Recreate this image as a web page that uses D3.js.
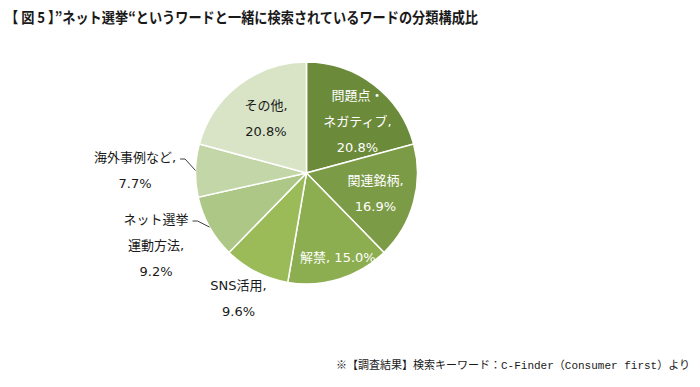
<!DOCTYPE html>
<meta charset="utf-8">
<head>
  <script src="https://cdn.jsdelivr.net/npm/d3@7"></script>
  <style>
    body { margin: 0; background: #fff; }
    text { font-family: "DejaVu Sans", "Noto Sans CJK JP", sans-serif; }
  </style>
</head>
<body>
<script type="text/javascript">

// datos
var categories = ["問題点・ネガティブ", "関連銘柄", "解禁", "SNS活用", "ネット選挙運動方法", "海外事例など", "その他"];
var nameLines = [["問題点・", "ネガティブ,"], ["関連銘柄,"], ["解禁,"], ["SNS活用,"], ["ネット選挙", "運動方法,"], ["海外事例など,"], ["その他,"]];
var values = [20.8, 16.9, 15.0, 9.6, 9.2, 7.7, 20.8];
var colors = ["#6b8a3a", "#7c9b47", "#8cae50", "#9bbb59", "#adc886", "#c3d6a7", "#d8e4c5"];

var w = 700, h = 387;
var cx = 306.5, cy = 173, radius = 111;

// layout of each label: k = fraction of radius, dx/dy offsets, inline = value on same line
var layout = [
  {k: 0.68, dx: 5, dy: 8, fill: "#fff"},
  {k: 0.70, dx: -6, dy: 0, fill: "#fff"},
  {k: 0.80, dx: 5, dy: 0, fill: "#fff", inline: true},
  {k: 1.25, dx: -5, dy: 2, fill: "#1a1a1a"},
  {k: 1.45, dx: 0, dy: 0, fill: "#1a1a1a", leader: true},
  {k: 1.55, dx: 0, dy: 0, fill: "#1a1a1a", leader: true},
  {k: 0.66, dx: 4, dy: 4, fill: "#1a1a1a"}
];
// fixed spots for the outside labels with leaders
var outside = {4: [156, 245], 5: [135, 170]};

var svg = d3.select("body").append("svg")
    .attr("width", w)
    .attr("height", h);

svg.append("text")
  .attr("x", 5).attr("y", 23)
  .attr("font-size", 15).attr("font-weight", "bold")
  .attr("fill", "#1a1a1a")
  .style("font-family", "'Noto Sans CJK JP', sans-serif")
  .attr("textLength", 473).attr("lengthAdjust", "spacingAndGlyphs")
  .text("【 図 5 】”ネット選挙“というワードと一緒に検索されているワードの分類構成比");

var g = svg.append("g")
    .attr("transform", "translate(" + cx + "," + cy + ")");

var pie = d3.pie().sort(null).value(function(d) { return d; });
var arcs = pie(values);

var path = d3.arc().innerRadius(0).outerRadius(radius);

g.selectAll("path")
  .data(arcs)
  .enter()
  .append("path")
  .attr("d", path)
  .attr("fill", function(d, i) { return colors[i]; })
  .attr("stroke", "#fff")
  .attr("stroke-width", 1.5);

var fmt = function(v) { return v.toFixed(1) + "%"; };
var lineH = 26;

arcs.forEach(function(d, i) {
  var L = layout[i];
  var a = (d.startAngle + d.endAngle) / 2;
  var x, y;
  if (outside[i]) {
    x = outside[i][0] - cx; y = outside[i][1] - cy;
  } else {
    x = Math.sin(a) * radius * L.k + L.dx;
    y = -Math.cos(a) * radius * L.k + L.dy;
  }
  var lines = nameLines[i].slice();
  if (L.inline) lines[lines.length - 1] += " " + fmt(values[i]);
  else lines.push(fmt(values[i]));

  var t = g.append("text")
    .attr("text-anchor", "middle")
    .attr("font-size", 13)
    .attr("fill", L.fill);
  var y0 = y - (lines.length - 1) * lineH / 2;
  lines.forEach(function(s, j) {
    t.append("tspan")
      .attr("x", x)
      .attr("y", y0 + j * lineH)
      .attr("dy", "0.35em")
      .text(s);
  });

  if (L.leader) {
    var bb = t.node().getBBox();
    var sx = x + bb.width / 2 + 4;
    var sy = y0 + 2;
    var ex = Math.sin(a) * radius, ey = -Math.cos(a) * radius;
    g.append("path")
      .attr("d", "M" + sx + "," + sy + "H" + (sx + 5) + "L" + ex + "," + ey)
      .attr("fill", "none")
      .attr("stroke", "#404040")
      .attr("stroke-width", 1);
  }
});

svg.append("text")
  .attr("x", 690).attr("y", 369)
  .attr("text-anchor", "end")
  .attr("font-size", 11)
  .attr("fill", "#1a1a1a")
  .style("font-family", "'Liberation Mono', 'Noto Sans CJK JP', monospace")
  .text("※【調査結果】検索キーワード：C-Finder（Consumer first）より");

</script>
</body>
